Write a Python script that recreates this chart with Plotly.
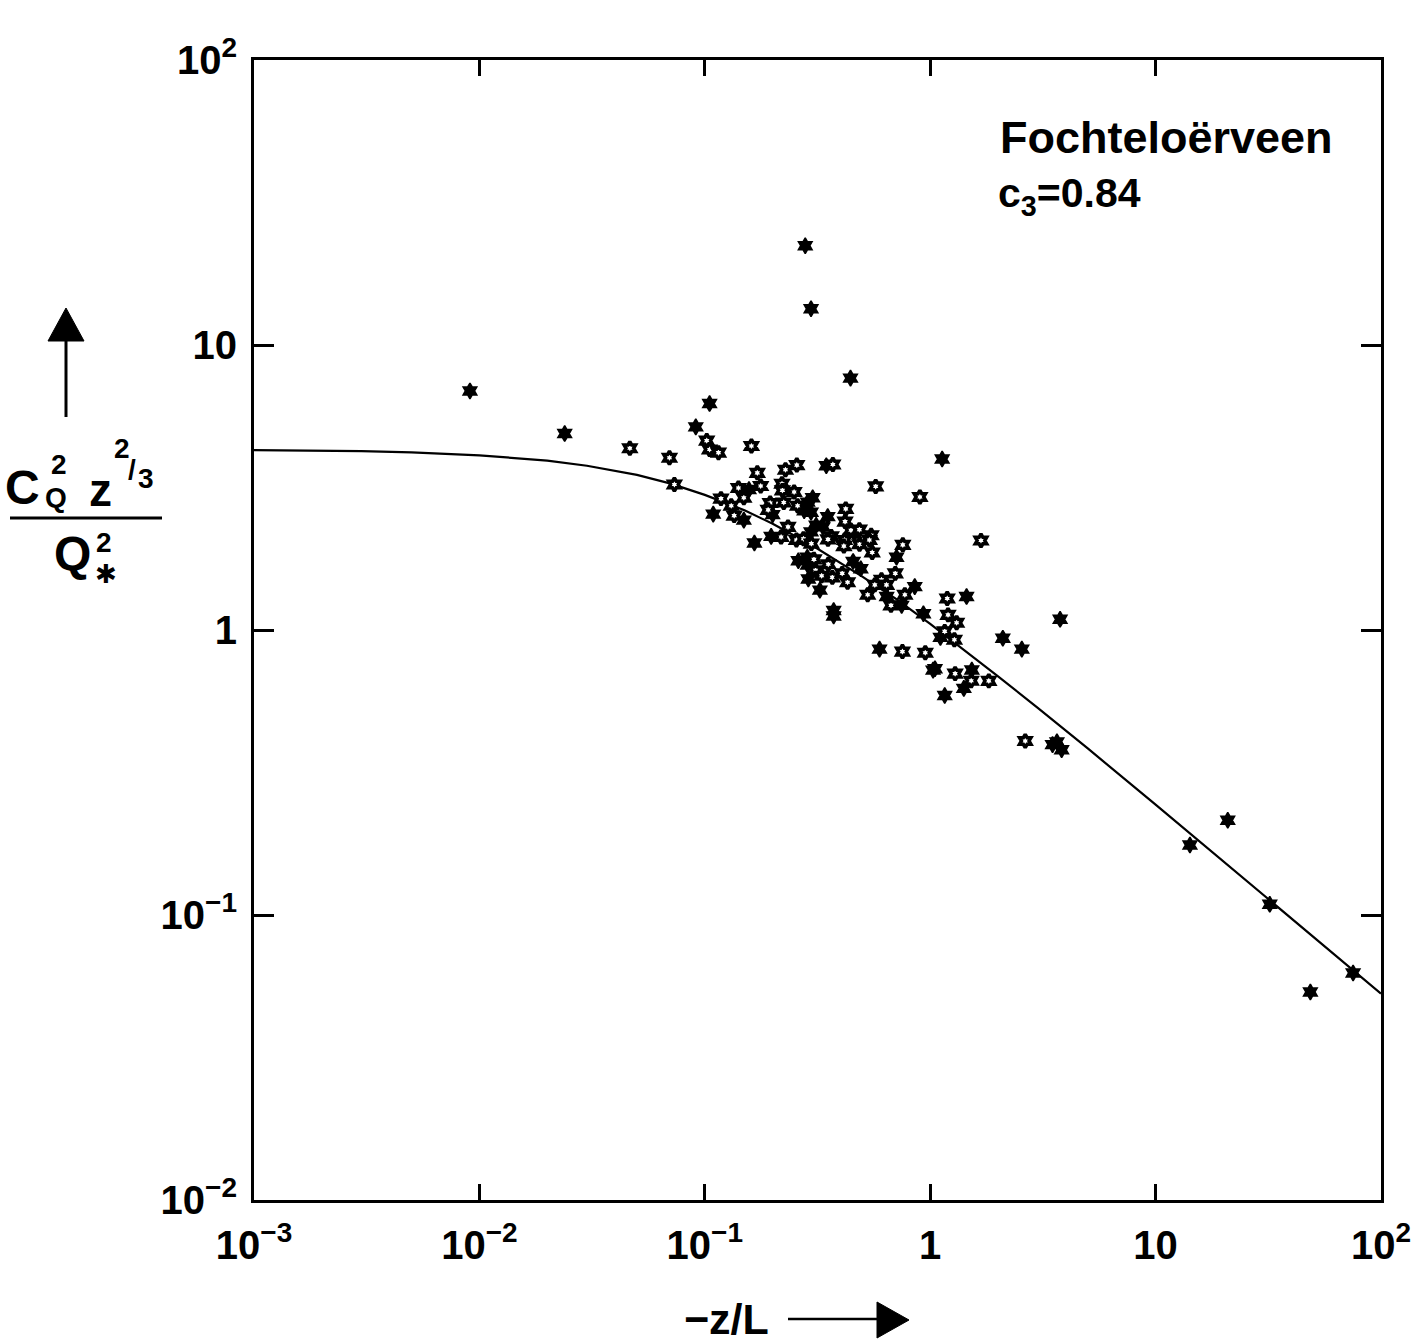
import plotly.graph_objects as go

# ---------------- data ----------------
filled_x = [0.279, 0.296, 0.00908, 0.443, 0.0239, 0.105, 0.0912, 0.346, 0.157, 0.301,
            0.286, 0.109, 0.149, 0.200, 0.276, 0.296, 0.351, 0.312, 0.334, 0.296,
            0.197, 0.166, 0.260, 0.285, 0.286, 0.288, 0.324, 0.373, 0.373, 1.13,
            0.461, 0.455, 0.492, 0.709, 0.641, 0.854, 0.747, 0.933, 1.45, 1.11,
            2.10, 2.55, 3.77, 0.596, 1.05, 1.03, 1.53, 1.41, 1.16, 3.49,
            3.65, 3.83, 14.2, 20.9, 32.1, 48.6, 75.2]
filled_y = [22.3, 13.4, 6.90, 7.65, 4.89, 6.23, 5.16, 3.77, 3.11, 2.91,
            2.81, 2.55, 2.43, 2.54, 2.62, 2.59, 2.50, 2.33, 2.30, 2.21,
            2.13, 2.02, 1.75, 1.80, 1.69, 1.51, 1.38, 1.17, 1.12, 3.98,
            2.18, 1.74, 1.64, 1.80, 1.31, 1.42, 1.22, 1.14, 1.31, 0.942,
            0.936, 0.857, 1.09, 0.857, 0.731, 0.723, 0.724, 0.624, 0.589, 0.396,
            0.405, 0.380, 0.176, 0.215, 0.109, 0.0537, 0.0626]

open_x = [0.0465, 0.102, 0.105, 0.115, 0.161, 0.0697, 0.171, 0.228, 0.256, 0.370,
          0.0733, 0.141, 0.177, 0.149, 0.220, 0.221, 0.249, 0.195, 0.224, 0.118,
          0.131, 0.135, 0.191, 0.258, 0.422, 0.419, 0.234, 0.364, 0.352, 0.417,
          0.218, 0.255, 0.274, 0.297, 0.414, 0.305, 0.310, 0.353, 0.330, 0.368,
          0.407, 0.430, 0.573, 0.900, 0.445, 0.485, 0.547, 0.486, 0.537, 0.756,
          1.68, 0.553, 0.700, 0.608, 0.568, 0.640, 0.528, 0.772, 0.670, 1.19,
          1.20, 1.31, 1.16, 1.28, 0.753, 0.951, 1.29, 1.52, 1.82, 2.64]
open_y = [4.34, 4.62, 4.30, 4.19, 4.42, 4.02, 3.56, 3.65, 3.79, 3.81,
          3.24, 3.15, 3.20, 2.91, 3.26, 3.09, 3.05, 2.79, 2.80, 2.89,
          2.73, 2.52, 2.64, 2.73, 2.66, 2.40, 2.30, 2.13, 2.08, 2.07,
          2.12, 2.07, 2.09, 2.01, 1.97, 1.77, 1.62, 1.70, 1.55, 1.53,
          1.58, 1.47, 3.19, 2.93, 2.24, 2.25, 2.15, 2.00, 2.07, 1.99,
          2.06, 1.87, 1.58, 1.50, 1.44, 1.44, 1.33, 1.33, 1.22, 1.29,
          1.13, 1.06, 0.989, 0.924, 0.840, 0.832, 0.703, 0.664, 0.663, 0.408]

curve_x = [0.001, 0.002, 0.003, 0.005, 0.01, 0.02, 0.03, 0.05, 0.07, 0.1,
           0.15, 0.2, 0.3, 0.5, 0.7, 1, 2, 3, 5, 10, 20, 50, 100]
curve_y = [4.28, 4.26, 4.24, 4.20, 4.10, 3.93, 3.77, 3.50, 3.27, 2.98,
           2.63, 2.36, 1.98, 1.54, 1.29, 1.05, 0.688, 0.533, 0.384, 0.244,
           0.154, 0.0841, 0.0530]

x_tick_vals = [1e-3, 1e-2, 1e-1, 1, 10, 100]
x_tick_text = ["10<sup>−3</sup>", "10<sup>−2</sup>", "10<sup>−1</sup>", "1", "10", "10<sup>2</sup>"]
y_tick_vals = [1e-2, 1e-1, 1, 10, 100]
y_tick_text = ["10<sup>−2</sup>", "10<sup>−1</sup>", "1", "10", "10<sup>2</sup>"]

site_name = "Fochteloërveen"
c3_text = "c<sub>3</sub>=0.84"
x_label = "−z/L"

# ---------------- layout geometry ----------------
W, H = 1416, 1344
L, R, T, B = 254, 1381, 60, 1200
FONT = "Liberation Sans"


def pp(px, py):
    """pixel -> paper coordinates"""
    return (px - L) / (R - L), (B - py) / (B - T)


fig = go.Figure()

fig.add_trace(go.Scatter(x=curve_x, y=curve_y, mode="lines",
                         line=dict(color="black", width=2.2),
                         hoverinfo="skip", showlegend=False))
fig.add_trace(go.Scatter(x=filled_x, y=filled_y, mode="markers",
                         marker=dict(symbol="hexagram", size=12, color="black",
                                     line=dict(color="black", width=1.5)),
                         showlegend=False))
fig.add_trace(go.Scatter(x=open_x, y=open_y, mode="markers",
                         marker=dict(symbol="hexagram", size=10, color="white",
                                     line=dict(color="black", width=3.5)),
                         showlegend=False))

axis_common = dict(type="log", showgrid=False, zeroline=False,
                   showline=True, linecolor="black", linewidth=3,
                   mirror="ticks", ticks="inside", tickcolor="black", tickwidth=2.5,
                   tickfont=dict(family=FONT, size=40, color="black", weight="bold"))

fig.update_xaxes(range=[-3, 2], tickvals=x_tick_vals, ticktext=x_tick_text,
                 ticklen=16, ticklabelstandoff=8, **axis_common)
fig.update_yaxes(range=[-2, 2], tickvals=y_tick_vals, ticktext=y_tick_text,
                 ticklen=20, ticklabelstandoff=6, **axis_common)

ann = []


def text(px, py, s, size, xanchor="center", weight="bold", family=FONT):
    x, y = pp(px, py)
    ann.append(dict(x=x, y=y, xref="paper", yref="paper", text=s, showarrow=False,
                    xanchor=xanchor, yanchor="middle",
                    font=dict(family=family, size=size, color="black", weight=weight)))


# y-axis label as a stacked fraction
text(22, 487, "C", 48)
text(59, 464, "2", 28)
text(56, 498, "Q", 28)
text(100, 490, "z", 46)
text(122, 449, "2", 28)
text(132, 469, "/", 28)
text(146, 478, "3", 28)
text(72, 553, "Q", 48)
text(104, 542, "2", 28)
text(106, 574, "✱", 26, family="DejaVu Sans")

# x-axis label
text(726, 1319, x_label, 43)

# inset texts
text(998, 137, site_name, 45, xanchor="left")
text(996, 196, c3_text, 41, xanchor="left")

fig.update_layout(annotations=ann)

shapes = []
x0, y0 = pp(10, 518)
x1, y1 = pp(162, 518)
shapes.append(dict(type="line", xref="paper", yref="paper", x0=x0, y0=y0, x1=x1, y1=y1,
                   line=dict(color="black", width=3)))
# up arrow
x0, y0 = pp(66, 417)
x1, y1 = pp(66, 338)
shapes.append(dict(type="line", xref="paper", yref="paper", x0=x0, y0=y0, x1=x1, y1=y1,
                   line=dict(color="black", width=3)))
a = pp(48, 341); b = pp(84, 341); c = pp(66, 308)
shapes.append(dict(type="path", xref="paper", yref="paper",
                   path=f"M {a[0]} {a[1]} L {b[0]} {b[1]} L {c[0]} {c[1]} Z",
                   fillcolor="black", line=dict(color="black", width=1)))
# right arrow
x0, y0 = pp(788, 1319)
x1, y1 = pp(880, 1319)
shapes.append(dict(type="line", xref="paper", yref="paper", x0=x0, y0=y0, x1=x1, y1=y1,
                   line=dict(color="black", width=2.5)))
a = pp(877, 1302); b = pp(877, 1338); c = pp(909, 1320)
shapes.append(dict(type="path", xref="paper", yref="paper",
                   path=f"M {a[0]} {a[1]} L {b[0]} {b[1]} L {c[0]} {c[1]} Z",
                   fillcolor="black", line=dict(color="black", width=1)))

fig.update_layout(shapes=shapes,
                  width=W, height=H,
                  margin=dict(l=L, r=W - R, t=T, b=H - B, autoexpand=False),
                  paper_bgcolor="white", plot_bgcolor="white",
                  showlegend=False)

fig.write_html("out.html")
